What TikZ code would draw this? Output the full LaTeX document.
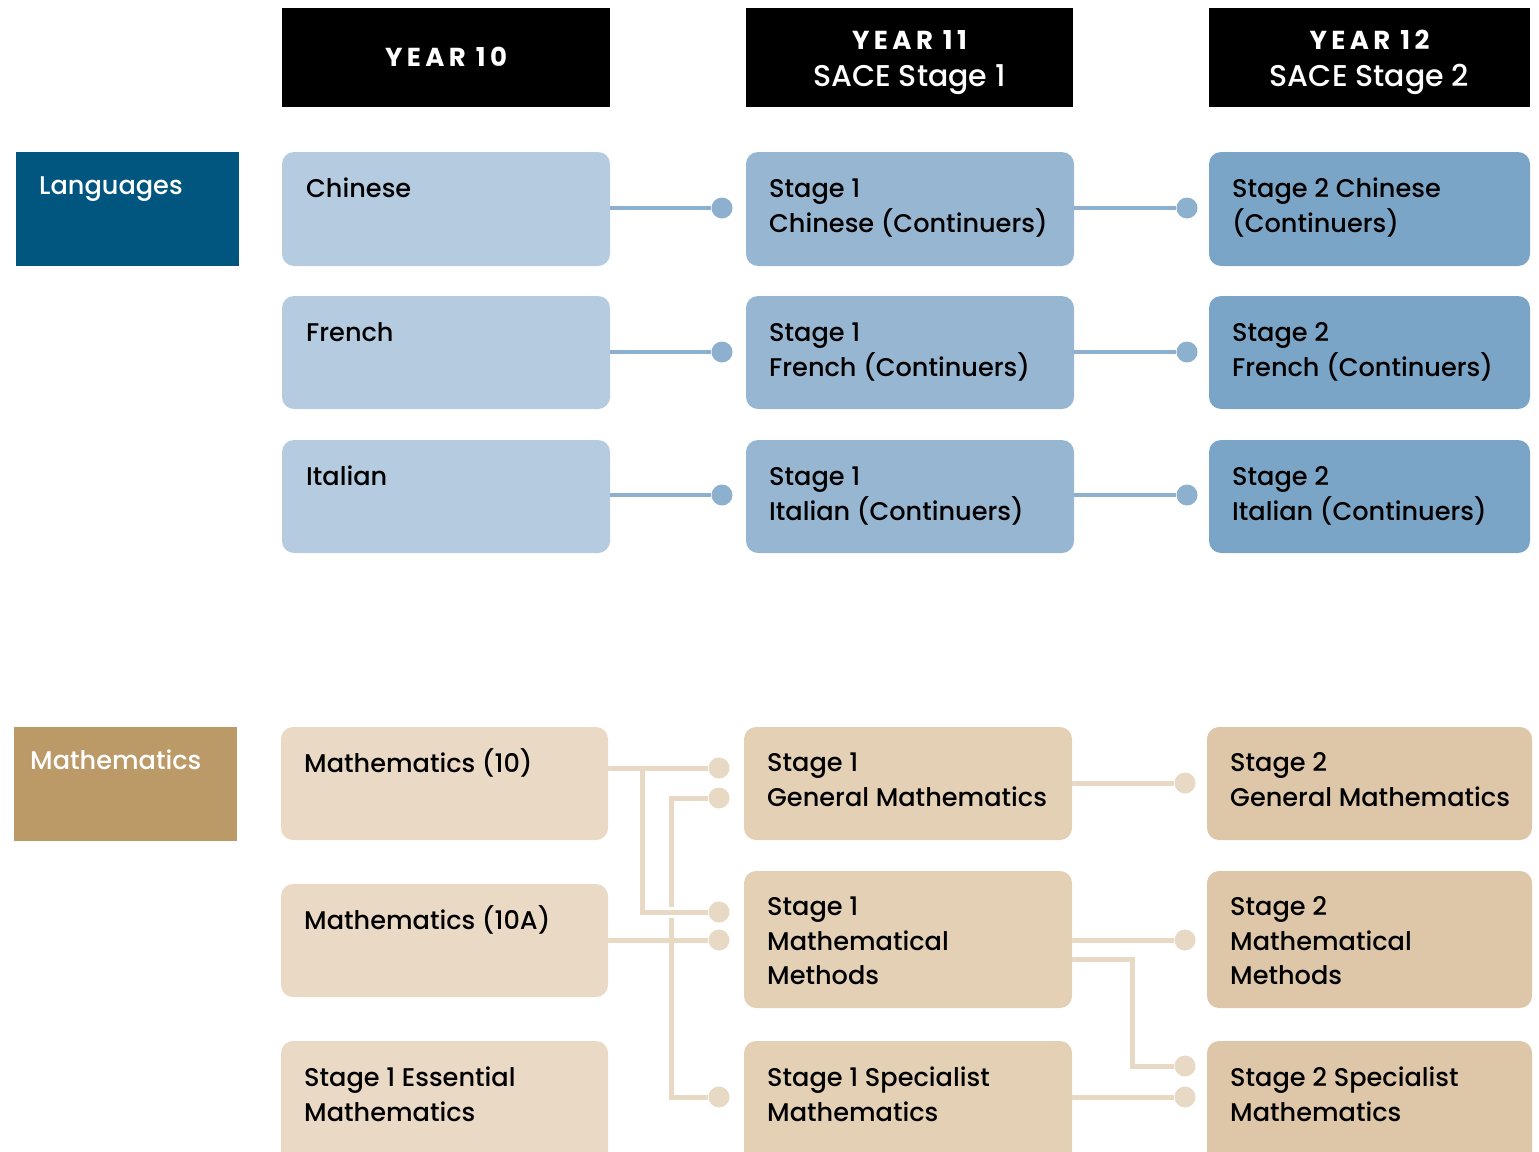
\documentclass[tikz,border=0pt]{standalone}
\usepackage{fontspec}
\setmainfont{Poppins}[UprightFont=* Medium, BoldFont=* Bold]
\definecolor{langlab}{HTML}{00567F}
\definecolor{lang1}{HTML}{B4CBE0}
\definecolor{lang2}{HTML}{97B6D1}
\definecolor{lang3}{HTML}{7AA5C7}
\definecolor{langline}{HTML}{8DB0CF}
\definecolor{mathlab}{HTML}{BB9A68}
\definecolor{math1}{HTML}{EADAC5}
\definecolor{math2}{HTML}{E4D1B5}
\definecolor{math3}{HTML}{DEC7A8}
\definecolor{mathline}{HTML}{E8D9C4}
\newcommand\hdb{\bfseries\addfontfeature{LetterSpace=17}\fontsize{26}{37}\selectfont}
\newcommand\tl[1]{\begin{tabular}[t]{@{}l@{}}#1\end{tabular}}
\newcommand\tc[1]{\begin{tabular}[t]{@{}c@{}}#1\end{tabular}}
\begin{document}
\begin{tikzpicture}[x=1pt,y=-1pt,
  box/.style={anchor=north west, inner sep=0pt, outer sep=0pt, rounded corners=12pt, draw=none},
  label/.style={anchor=north west, inner sep=0pt, outer sep=0pt, draw=none},
  head/.style={anchor=north west, inner sep=0pt, outer sep=0pt, fill=black, draw=none},
  txt/.style={anchor=base west, inner sep=0pt, font=\fontsize{25.6}{34.5}\selectfont},
  htxt/.style={anchor=base, inner sep=0pt, text=white, font=\fontsize{30}{37}\selectfont},
  ldot/.style={circle, fill=langline, inner sep=0pt, minimum size=21pt},
  mdot/.style={circle, fill=mathline, inner sep=0pt, minimum size=21pt},
  lline/.style={draw=langline, line width=4pt},
  mline/.style={draw=mathline, line width=5pt},
]
\useasboundingbox (0,0) rectangle (1539,1151);
\clip (0,0) rectangle (1539,1151);

% headers
\node[head, minimum width=328pt, minimum height=99pt] (h1) at (282,8) {};
\node[head, minimum width=327pt, minimum height=99pt] (h2) at (746,8) {};
\node[head, minimum width=321pt, minimum height=99pt] (h3) at (1209,8) {};
\node[htxt] (h1t) at ([shift={(0,58)}]h1.north) {\hdb YEAR 10};
\node[htxt] (h2t) at ([shift={(0,41)}]h2.north) {\tc{{\hdb YEAR 11}\\SACE Stage 1}};
\node[htxt] (h3t) at ([shift={(0,41)}]h3.north) {\tc{{\hdb YEAR 12}\\SACE Stage 2}};

% category labels
\node[label, fill=langlab, minimum width=223pt, minimum height=114pt] (lang) at (16,152) {};
\node[txt, text=white] (langt) at ([shift={(23,42)}]lang.north west) {Languages};
\node[label, fill=mathlab, minimum width=223pt, minimum height=114pt] (math) at (14,727) {};
\node[txt, text=white] (matht) at ([shift={(16,42.5)}]math.north west) {Mathematics};

% language dots
\node[ldot] (la1) at (722,208) {};
\node[ldot] (lb1) at (1187,208) {};
\node[ldot] (la2) at (722,352) {};
\node[ldot] (lb2) at (1187,352) {};
\node[ldot] (la3) at (722,495) {};
\node[ldot] (lb3) at (1187,495) {};

% language boxes
\node[box, fill=lang1, minimum width=328pt, minimum height=114pt] (c1) at (282,152) {};
\node[box, fill=lang2, minimum width=328pt, minimum height=114pt] (c2) at (746,152) {};
\node[box, fill=lang3, minimum width=321pt, minimum height=114pt] (c3) at (1209,152) {};
\node[box, fill=lang1, minimum width=328pt, minimum height=113pt] (f1) at (282,296) {};
\node[box, fill=lang2, minimum width=328pt, minimum height=113pt] (f2) at (746,296) {};
\node[box, fill=lang3, minimum width=321pt, minimum height=113pt] (f3) at (1209,296) {};
\node[box, fill=lang1, minimum width=328pt, minimum height=113pt] (i1) at (282,440) {};
\node[box, fill=lang2, minimum width=328pt, minimum height=113pt] (i2) at (746,440) {};
\node[box, fill=lang3, minimum width=321pt, minimum height=113pt] (i3) at (1209,440) {};

% language connectors
\draw[lline] (c1.east |- la1) -- (la1);
\draw[lline] (c2.east |- lb1) -- (lb1);
\draw[lline] (f1.east |- la2) -- (la2);
\draw[lline] (f2.east |- lb2) -- (lb2);
\draw[lline] (i1.east |- la3) -- (la3);
\draw[lline] (i2.east |- lb3) -- (lb3);

% language texts
\node[txt] at ([shift={(24,45.5)}]c1.north west) {Chinese};
\node[txt] at ([shift={(23,45.5)}]c2.north west) {\tl{Stage 1\\Chinese (Continuers)}};
\node[txt] at ([shift={(23,45.5)}]c3.north west) {\tl{Stage 2 Chinese\\(Continuers)}};
\node[txt] at ([shift={(24,45.5)}]f1.north west) {French};
\node[txt] at ([shift={(23,45.5)}]f2.north west) {\tl{Stage 1\\French (Continuers)}};
\node[txt] at ([shift={(23,45.5)}]f3.north west) {\tl{Stage 2\\French (Continuers)}};
\node[txt] at ([shift={(24,45.5)}]i1.north west) {Italian};
\node[txt] at ([shift={(23,45.5)}]i2.north west) {\tl{Stage 1\\Italian (Continuers)}};
\node[txt] at ([shift={(23,45.5)}]i3.north west) {\tl{Stage 2\\Italian (Continuers)}};

% math dots
\node[mdot] (da) at (719,768) {};
\node[mdot] (db) at (719,798) {};
\node[mdot] (dc) at (719,912) {};
\node[mdot] (dd) at (719,940) {};
\node[mdot] (de) at (719,1097) {};
\node[mdot] (ea) at (1185,783) {};
\node[mdot] (eb) at (1185,940) {};
\node[mdot] (ec) at (1185,1066) {};
\node[mdot] (ed) at (1185,1097) {};
\coordinate (j1) at (642,0);
\coordinate (j2) at (671,0);
\coordinate (j3) at (1132,0);
\coordinate (y3) at (0,959);

% math boxes
\node[box, fill=math1, minimum width=327pt, minimum height=113pt] (m1) at (281,727) {};
\node[box, fill=math1, minimum width=327pt, minimum height=113pt] (m2) at (281,884) {};
\node[box, fill=math1, minimum width=327pt, minimum height=130pt] (m3) at (281,1041) {};
\node[box, fill=math2, minimum width=328pt, minimum height=113pt] (s1) at (744,727) {};
\node[box, fill=math2, minimum width=328pt, minimum height=137pt] (s2) at (744,871) {};
\node[box, fill=math2, minimum width=328pt, minimum height=130pt] (s3) at (744,1041) {};
\node[box, fill=math3, minimum width=325pt, minimum height=113pt] (t1) at (1207,727) {};
\node[box, fill=math3, minimum width=325pt, minimum height=137pt] (t2) at (1207,871) {};
\node[box, fill=math3, minimum width=325pt, minimum height=130pt] (t3) at (1207,1041) {};

% math connectors, year 10 -> year 11
\draw[mline] (m2.east |- dd) -- (dd);
\draw[mline] (db) -- (j2 |- db) -- (j2 |- de) -- (de);
\draw[white, line width=11pt] ([shift={(-8,0)}]j2 |- dc) -- ([shift={(8,0)}]j2 |- dc);
\draw[mline] (m1.east |- da) -- (da);
\draw[mline] (m1.east |- da) -- (j1 |- da) -- (j1 |- dc) -- (dc);

% math connectors, year 11 -> year 12
\draw[mline] (s1.east |- ea) -- (ea);
\draw[mline] (s2.east |- eb) -- (eb);
\draw[mline] (s2.east |- y3) -- (j3 |- y3) -- (j3 |- ec) -- (ec);
\draw[mline] (s3.east |- ed) -- (ed);

% math texts
\node[txt] at ([shift={(23,45.5)}]m1.north west) {Mathematics (10)};
\node[txt] at ([shift={(23,45.5)}]m2.north west) {Mathematics (10A)};
\node[txt] at ([shift={(23,45.5)}]m3.north west) {\tl{Stage 1 Essential\\Mathematics}};
\node[txt] at ([shift={(23,44.5)}]s1.north west) {\tl{Stage 1\\General Mathematics}};
\node[txt] at ([shift={(23,44.5)}]s2.north west) {\tl{Stage 1\\Mathematical\\Methods}};
\node[txt] at ([shift={(23,45.5)}]s3.north west) {\tl{Stage 1 Specialist\\Mathematics}};
\node[txt] at ([shift={(23,44.5)}]t1.north west) {\tl{Stage 2\\General Mathematics}};
\node[txt] at ([shift={(23,44.5)}]t2.north west) {\tl{Stage 2\\Mathematical\\Methods}};
\node[txt] at ([shift={(23,45.5)}]t3.north west) {\tl{Stage 2 Specialist\\Mathematics}};
\end{tikzpicture}
\end{document}
